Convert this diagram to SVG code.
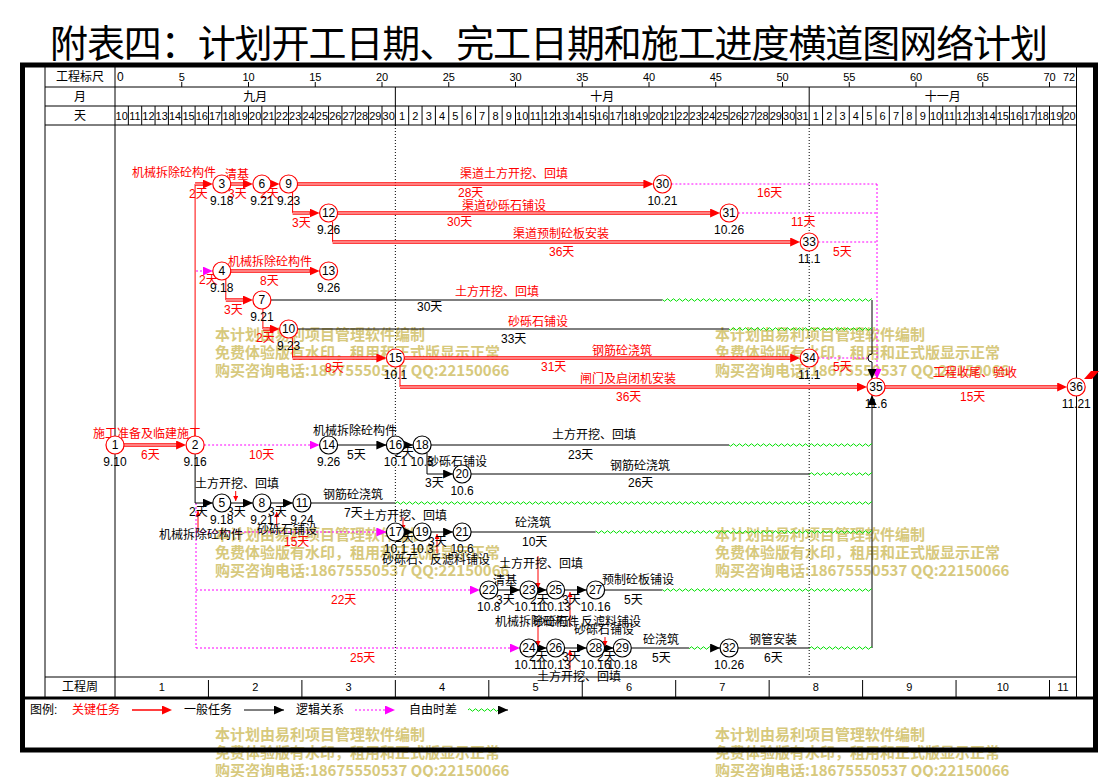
<svg xmlns="http://www.w3.org/2000/svg" width="1101" height="777" viewBox="0 0 1101 777">
<style>
text{font-family:"Liberation Sans","Noto Sans CJK SC",sans-serif;font-size:12px;fill:#000}
.r{fill:#f00}
.ttl{font-family:"Noto Sans CJK SC",sans-serif;font-size:38px}
.hd text{font-size:11px;text-anchor:middle}
.mid{text-anchor:middle}
.wm text{font-family:"Noto Sans CJK SC",sans-serif;font-size:15px;font-weight:bold;fill:#d7c97d}
.ln{stroke:#000;stroke-width:1;fill:none}
.dot{stroke:#000;stroke-width:1;stroke-dasharray:1 2;fill:none}
.c{stroke:#f00;stroke-width:3.4;fill:none}
.ci{stroke:#fff;stroke-width:1.2;fill:none}
.v{stroke:#f00;stroke-width:1;fill:none}
.b{stroke:#000;stroke-width:1;fill:none}
.m{stroke:#f0f;stroke-width:1;stroke-dasharray:2 2;fill:none}
.sr{stroke:#f00;stroke-width:1;fill:none}
.nr circle{fill:#fff;stroke:#f00;stroke-width:1.2}
.nb circle{fill:#fff;stroke:#000;stroke-width:1.2}
.nr text,.nb text{text-anchor:middle}
.wv{fill:url(#wv)}
</style>
<defs>
<marker id="aR" viewBox="0 0 10 9" refX="4" refY="4.5" markerWidth="10" markerHeight="9" markerUnits="userSpaceOnUse" orient="auto"><path d="M0,0L10,4.5L0,9z" fill="#f00"/></marker>
<marker id="aK" viewBox="0 0 10 9" refX="10" refY="4.5" markerWidth="10" markerHeight="9" markerUnits="userSpaceOnUse" orient="auto"><path d="M0,0L10,4.5L0,9z" fill="#000"/></marker>
<marker id="aM" viewBox="0 0 10 9" refX="10" refY="4.5" markerWidth="10" markerHeight="9" markerUnits="userSpaceOnUse" orient="auto"><path d="M0,0L10,4.5L0,9z" fill="#f0f"/></marker>
<marker id="sa" viewBox="0 0 5 5" refX="5" refY="2.5" markerWidth="5" markerHeight="5" markerUnits="userSpaceOnUse" orient="auto"><path d="M0,0L5,2.5L0,5z" fill="#f00"/></marker>
<pattern id="wv" patternUnits="userSpaceOnUse" x="0" y="-3" width="6" height="6"><path d="M0,3Q1.5,0.5 3,3T6,3" fill="none" stroke="#00e000" stroke-width="1"/></pattern>
</defs>
<rect x="0" y="0" width="1101" height="777" fill="#fff"/>
<text class="ttl" x="50" y="57" textLength="998">附表四：计划开工日期、完工日期和施工进度横道图网络计划</text>

<g id="watermark" class="wm">
<text x="215" y="340">本计划由易利项目管理软件编制</text>
<text x="215" y="358">免费体验版有水印，租用和正式版显示正常</text>
<text x="215" y="376">购买咨询电话:18675550537 QQ:22150066</text>
<text x="715" y="340">本计划由易利项目管理软件编制</text>
<text x="715" y="358">免费体验版有水印，租用和正式版显示正常</text>
<text x="715" y="376">购买咨询电话:18675550537 QQ:22150066</text>
<text x="215" y="540">本计划由易利项目管理软件编制</text>
<text x="215" y="558">免费体验版有水印，租用和正式版显示正常</text>
<text x="215" y="576">购买咨询电话:18675550537 QQ:22150066</text>
<text x="715" y="540">本计划由易利项目管理软件编制</text>
<text x="715" y="558">免费体验版有水印，租用和正式版显示正常</text>
<text x="715" y="576">购买咨询电话:18675550537 QQ:22150066</text>
<text x="215" y="740">本计划由易利项目管理软件编制</text>
<text x="215" y="758">免费体验版有水印，租用和正式版显示正常</text>
<text x="215" y="776">购买咨询电话:18675550537 QQ:22150066</text>
<text x="715" y="740">本计划由易利项目管理软件编制</text>
<text x="715" y="758">免费体验版有水印，租用和正式版显示正常</text>
<text x="715" y="776">购买咨询电话:18675550537 QQ:22150066</text>
</g>

<g id="frame">
<rect x="22.5" y="65" width="1073" height="685" fill="none" stroke="#000" stroke-width="5"/>
<path class="ln" d="M45,87H1076.5M45,106H1076.5M45,125H1076.5M45,677H1076.5M45,65V698M115,65V698M1076.5,65V698M395.35,87V125M809.2,87V125"/>
<path d="M22,698H1096" stroke="#000" stroke-width="3"/>
<path class="ln" d="M128.35,106V125M141.7,106V125M155.05,106V125M168.4,106V125M181.75,106V125M195.1,106V125M208.45,106V125M221.8,106V125M235.15,106V125M248.5,106V125M261.85,106V125M275.2,106V125M288.55,106V125M301.9,106V125M315.25,106V125M328.6,106V125M341.95,106V125M355.3,106V125M368.65,106V125M382,106V125M408.7,106V125M422.05,106V125M435.4,106V125M448.75,106V125M462.1,106V125M475.45,106V125M488.8,106V125M502.15,106V125M515.5,106V125M528.85,106V125M542.2,106V125M555.55,106V125M568.9,106V125M582.25,106V125M595.6,106V125M608.95,106V125M622.3,106V125M635.65,106V125M649,106V125M662.35,106V125M675.7,106V125M689.05,106V125M702.4,106V125M715.75,106V125M729.1,106V125M742.45,106V125M755.8,106V125M769.15,106V125M782.5,106V125M795.85,106V125M822.55,106V125M835.9,106V125M849.25,106V125M862.6,106V125M875.95,106V125M889.3,106V125M902.65,106V125M916,106V125M929.35,106V125M942.7,106V125M956.05,106V125M969.4,106V125M982.75,106V125M996.1,106V125M1009.45,106V125M1022.8,106V125M1036.15,106V125M1049.5,106V125M1062.85,106V125"/>
<path class="ln" d="M181.75,82V87M248.5,82V87M315.25,82V87M382,82V87M448.75,82V87M515.5,82V87M582.25,82V87M649,82V87M715.75,82V87M782.5,82V87M849.25,82V87M916,82V87M982.75,82V87M1049.5,82V87"/>
<path class="ln" d="M208.45,680V698M301.9,680V698M395.35,680V698M488.8,680V698M582.25,680V698M675.7,680V698M769.15,680V698M862.6,680V698M956.05,680V698M1049.5,680V698"/>
<path class="dot" d="M395.35,125V677M809.2,125V677"/>
<text class="mid" x="80" y="81">工程标尺</text>
<text class="mid" x="80" y="101">月</text>
<text class="mid" x="80" y="120">天</text>
<text class="mid" x="80" y="691">工程周</text>
<text x="117" y="81" font-size="11">0</text>
<g class="hd">
<text x="181.75" y="81">5</text><text x="248.5" y="81">10</text><text x="315.25" y="81">15</text><text x="382" y="81">20</text><text x="448.75" y="81">25</text><text x="515.5" y="81">30</text><text x="582.25" y="81">35</text><text x="649" y="81">40</text><text x="715.75" y="81">45</text><text x="782.5" y="81">50</text><text x="849.25" y="81">55</text><text x="916" y="81">60</text><text x="982.75" y="81">65</text><text x="1049.5" y="81">70</text>
<text x="1069" y="81">72</text>
<text x="255.2" y="101" style="font-size:12px">九月</text><text x="602.3" y="101" style="font-size:12px">十月</text><text x="942.7" y="101" style="font-size:12px">十一月</text>
<text x="121.7" y="120">10</text><text x="135" y="120">11</text><text x="148.4" y="120">12</text><text x="161.7" y="120">13</text><text x="175.1" y="120">14</text><text x="188.5" y="120">15</text><text x="201.8" y="120">16</text><text x="215.1" y="120">17</text><text x="228.5" y="120">18</text><text x="241.8" y="120">19</text><text x="255.2" y="120">20</text><text x="268.5" y="120">21</text><text x="281.9" y="120">22</text><text x="295.2" y="120">23</text><text x="308.6" y="120">24</text><text x="321.9" y="120">25</text><text x="335.3" y="120">26</text><text x="348.6" y="120">27</text><text x="362" y="120">28</text><text x="375.3" y="120">29</text><text x="388.7" y="120">30</text>
<text x="402" y="120">1</text><text x="415.4" y="120">2</text><text x="428.7" y="120">3</text><text x="442.1" y="120">4</text><text x="455.4" y="120">5</text><text x="468.8" y="120">6</text><text x="482.1" y="120">7</text><text x="495.5" y="120">8</text><text x="508.8" y="120">9</text><text x="522.2" y="120">10</text><text x="535.5" y="120">11</text><text x="548.9" y="120">12</text><text x="562.2" y="120">13</text><text x="575.6" y="120">14</text><text x="588.9" y="120">15</text><text x="602.3" y="120">16</text><text x="615.6" y="120">17</text><text x="629" y="120">18</text><text x="642.3" y="120">19</text><text x="655.7" y="120">20</text><text x="669" y="120">21</text><text x="682.4" y="120">22</text><text x="695.7" y="120">23</text><text x="709.1" y="120">24</text><text x="722.4" y="120">25</text><text x="735.8" y="120">26</text><text x="749.1" y="120">27</text><text x="762.5" y="120">28</text><text x="775.8" y="120">29</text><text x="789.2" y="120">30</text><text x="802.5" y="120">31</text>
<text x="815.9" y="120">1</text><text x="829.2" y="120">2</text><text x="842.6" y="120">3</text><text x="855.9" y="120">4</text><text x="869.3" y="120">5</text><text x="882.6" y="120">6</text><text x="896" y="120">7</text><text x="909.3" y="120">8</text><text x="922.7" y="120">9</text><text x="936" y="120">10</text><text x="949.4" y="120">11</text><text x="962.7" y="120">12</text><text x="976.1" y="120">13</text><text x="989.4" y="120">14</text><text x="1002.8" y="120">15</text><text x="1016.1" y="120">16</text><text x="1029.5" y="120">17</text><text x="1042.8" y="120">18</text><text x="1056.2" y="120">19</text><text x="1069.5" y="120">20</text>
<text x="161.7" y="691">1</text><text x="255.2" y="691">2</text><text x="348.6" y="691">3</text><text x="442.1" y="691">4</text><text x="535.5" y="691">5</text><text x="629" y="691">6</text><text x="722.4" y="691">7</text><text x="815.9" y="691">8</text><text x="909.3" y="691">9</text><text x="1002.8" y="691">10</text><text x="1062.9" y="691">11</text>
</g>
</g>

<g id="connectors">
<!-- critical verticals -->
<path class="v" d="M195.1,436V184M292.6,192V213M332.6,222V242M225.8,279V300M262.9,309V329M292.6,338V358M400,366V387"/>
<!-- critical double lines -->
<g marker-end="url(#aR)">
<path class="c" d="M124,445H180.1"/>
<path class="c" d="M195.1,184H206.8"/>
<path class="c" d="M230.8,184H246.9"/>
<path class="c" d="M270.9,184H273.6"/>
<path class="c" d="M297.6,184H647.4"/>
<path class="c" d="M292.6,213H313.6"/>
<path class="c" d="M337.6,213H714.1"/>
<path class="c" d="M332.6,242H794.2"/>
<path class="c" d="M230.8,271H313.6"/>
<path class="c" d="M225.8,300H246.9"/>
<path class="c" d="M262.9,329H273.6"/>
<path class="c" d="M292.6,358H380.4"/>
<path class="c" d="M404.4,358H794.2"/>
<path class="c" d="M400,387H861"/>
<path class="c" d="M885,387H1061.2"/>
</g>
<path class="ci" d="M124,445H176.1M195.1,184H202.8M230.8,184H242.9M297.6,184H643.4M292.6,213H309.6M337.6,213H710.1M332.6,242H790.2M230.8,271H309.6M225.8,300H242.9M262.9,329H269.6M292.6,358H376.4M404.4,358H790.2M400,387H857M885,387H1057.2"/>
<!-- magenta logic / free time -->
<path class="m" d="M671.4,184H877M738.1,213H877M818.2,242H877M818.2,358H868M196,503V648"/>
<g marker-end="url(#aM)">
<path class="m" d="M196,271H212.8"/>
<path class="m" d="M204.1,445H319.6"/>
<path class="m" d="M877,184V379"/>
<path class="m" d="M196,532H386.4"/>
<path class="m" d="M196,590H479.8"/>
<path class="m" d="M196,648H519.9"/>
</g>
<!-- black tasks -->
<path class="b" d="M431.1,445H729.1M471.1,474H809.2M310.9,503H395.4M471.1,532H595.6M604.6,590H662.4M631.3,648H689.1M738.1,648H809.2M270.9,300H662.4M297.6,329H729.1"/>
<g marker-end="url(#aK)">
<path class="b" d="M337.6,445H386.4"/>
<path class="b" d="M404.4,445H413.1"/>
<path class="b" d="M427,453V474H453.1"/>
<path class="b" d="M195.1,454V503H212.8"/>
<path class="b" d="M230.8,503H252.9"/>
<path class="b" d="M270.9,503H292.9"/>
<path class="b" d="M404.4,532H413.1"/>
<path class="b" d="M431.1,532H453.1"/>
<path class="b" d="M497.8,590H519.9"/>
<path class="b" d="M537.9,590H546.6"/>
<path class="b" d="M564.6,590H586.6"/>
<path class="b" d="M537.9,648H546.6"/>
<path class="b" d="M564.6,648H586.6"/>
<path class="b" d="M604.6,648H613.3"/>
<path class="b" d="M710,648H720.1"/>
<path class="b" d="M872,300V354A4,4 0 0 0 872,362V379"/>
<path class="b" d="M872,648V395"/>
</g>
<!-- free float waves -->
<rect class="wv" transform="translate(0,300)" x="662.4" y="-3" width="209.6" height="6"/>
<rect class="wv" transform="translate(0,329)" x="729.1" y="-3" width="142.9" height="6"/>
<rect class="wv" transform="translate(0,445)" x="729.1" y="-3" width="142.9" height="6"/>
<rect class="wv" transform="translate(0,474)" x="809.2" y="-3" width="62.8" height="6"/>
<rect class="wv" transform="translate(0,503)" x="395.4" y="-3" width="476.6" height="6"/>
<rect class="wv" transform="translate(0,532)" x="595.6" y="-3" width="276.4" height="6"/>
<rect class="wv" transform="translate(0,590)" x="662.4" y="-3" width="209.6" height="6"/>
<rect class="wv" transform="translate(0,648)" x="689.1" y="-3" width="20.9" height="6"/>
<rect class="wv" transform="translate(0,648)" x="809.2" y="-3" width="62.8" height="6"/>
<!-- small red link arrows -->
<g marker-end="url(#sa)">
<path class="sr" d="M198,532V511"/>
<path class="sr" d="M235.7,491V501"/>
<path class="sr" d="M276.7,527V512"/>
<path class="sr" d="M403,517V530"/>
<path class="sr" d="M437,553V534"/>
<path class="sr" d="M538,556V588"/>
<path class="sr" d="M570,627V592"/>
<path class="sr" d="M538,625V646"/>
<path class="sr" d="M570,670V650"/>
<path class="sr" d="M605,637V646"/>
</g>
<polygon points="1084,379 1091,371 1099,371 1092,379" fill="#f00"/>
</g>

<g id="labels">
<g class="r">
<text class="r" x="132" y="177">机械拆除砼构件</text>
<text class="r" x="225" y="179">清基</text>
<text class="r" x="189" y="198">2天</text>
<text class="r" x="228" y="198">3天</text>
<text class="r" x="260" y="198">2天</text>
<text class="r" x="460" y="178">渠道土方开挖、回填</text>
<text class="r" x="458" y="197">28天</text>
<text class="r" x="757" y="197">16天</text>
<text class="r" x="462" y="210">渠道砂砾石铺设</text>
<text class="r" x="292" y="227">3天</text>
<text class="r" x="447" y="226">30天</text>
<text class="r" x="791" y="226">11天</text>
<text class="r" x="513" y="238">渠道预制砼板安装</text>
<text class="r" x="549" y="256">36天</text>
<text class="r" x="833" y="256">5天</text>
<text class="r" x="228" y="266">机械拆除砼构件</text>
<text class="r" x="199" y="284">2天</text>
<text class="r" x="260" y="285">8天</text>
<text class="r" x="224" y="314">3天</text>
<text class="r" x="455" y="296">土方开挖、回填</text>
<text class="r" x="256" y="342">2天</text>
<text class="r" x="508" y="326">砂砾石铺设</text>
<text class="r" x="592" y="355">钢筋砼浇筑</text>
<text class="r" x="325" y="372">8天</text>
<text class="r" x="541" y="371">31天</text>
<text class="r" x="833" y="371">5天</text>
<text class="r" x="580" y="383">闸门及启闭机安装</text>
<text class="r" x="616" y="401">36天</text>
<text class="r" x="933" y="377">工程收尾、验收</text>
<text class="r" x="960" y="401">15天</text>
<text class="r" x="93" y="438">施工准备及临建施工</text>
<text class="r" x="141" y="459">6天</text>
<text class="r" x="249" y="459">10天</text>
<text class="r" x="284" y="546">15天</text>
<text class="r" x="331" y="604">22天</text>
<text class="r" x="350" y="662">25天</text>
</g>
<text x="417" y="311">30天</text>
<text x="501" y="343">33天</text>
<text x="313" y="435">机械拆除砼构件</text>
<text x="347" y="459">5天</text>
<text x="395" y="457">2天</text>
<text x="552" y="439">土方开挖、回填</text>
<text x="568" y="459">23天</text>
<text x="427" y="466">砂砾石铺设</text>
<text x="610" y="470">钢筋砼浇筑</text>
<text x="425" y="487">3天</text>
<text x="628" y="487">26天</text>
<text x="195" y="488">土方开挖、回填</text>
<text x="323" y="499">钢筋砼浇筑</text>
<text x="189" y="516">2天</text>
<text x="227" y="516">3天</text>
<text x="268" y="516">3天</text>
<text x="344" y="517">7天</text>
<text x="257" y="534">砂砾石铺设</text>
<text x="159" y="539">机械拆除砼构件</text>
<text x="363" y="520">土方开挖、回填</text>
<text x="515" y="527">砼浇筑</text>
<text x="395" y="542">2天</text>
<text x="428" y="546">3天</text>
<text x="522" y="546">10天</text>
<text x="382" y="564">砂砾石、反滤料铺设</text>
<text x="499" y="568">土方开挖、回填</text>
<text x="493" y="585">清基</text>
<text x="602" y="584">预制砼板铺设</text>
<text x="496" y="604">3天</text>
<text x="530" y="604">2天</text>
<text x="562" y="604">3天</text>
<text x="624" y="604">5天</text>
<text x="495" y="626">机械拆除砼构件</text>
<text x="533" y="626">砂砾石、反滤料铺设</text>
<text x="574" y="634">砂砾石铺设</text>
<text x="643" y="644">砼浇筑</text>
<text x="749" y="644">钢管安装</text>
<text x="529" y="661">2天</text>
<text x="562" y="661">3天</text>
<text x="597" y="661">2天</text>
<text x="652" y="662">5天</text>
<text x="764" y="662">6天</text>
<text x="537" y="681">土方开挖、回填</text>
</g>

<g id="nodes">
<g id="n1" class="nr"><circle cx="115" cy="445" r="9"/><text x="115" y="449">1</text><text x="115" y="466">9.10</text></g>
<g id="n2" class="nr"><circle cx="195.1" cy="445" r="9"/><text x="195.1" y="449">2</text><text x="195.1" y="466">9.16</text></g>
<g id="n3" class="nr"><circle cx="221.8" cy="184" r="9"/><text x="221.8" y="188">3</text><text x="221.8" y="205">9.18</text></g>
<g id="n4" class="nr"><circle cx="221.8" cy="271" r="9"/><text x="221.8" y="275">4</text><text x="221.8" y="292">9.18</text></g>
<g id="n5" class="nb"><circle cx="221.8" cy="503" r="9"/><text x="221.8" y="507">5</text><text x="221.8" y="524">9.18</text></g>
<g id="n6" class="nr"><circle cx="261.9" cy="184" r="9"/><text x="261.9" y="188">6</text><text x="261.9" y="205">9.21</text></g>
<g id="n7" class="nr"><circle cx="261.9" cy="300" r="9"/><text x="261.9" y="304">7</text><text x="261.9" y="321">9.21</text></g>
<g id="n8" class="nb"><circle cx="261.9" cy="503" r="9"/><text x="261.9" y="507">8</text><text x="261.9" y="524">9.21</text></g>
<g id="n9" class="nr"><circle cx="288.6" cy="184" r="9"/><text x="288.6" y="188">9</text><text x="288.6" y="205">9.23</text></g>
<g id="n10" class="nr"><circle cx="288.6" cy="329" r="9"/><text x="288.6" y="333">10</text><text x="288.6" y="350">9.23</text></g>
<g id="n11" class="nb"><circle cx="301.9" cy="503" r="9"/><text x="301.9" y="507">11</text><text x="301.9" y="524">9.24</text></g>
<g id="n12" class="nr"><circle cx="328.6" cy="213" r="9"/><text x="328.6" y="217">12</text><text x="328.6" y="234">9.26</text></g>
<g id="n13" class="nr"><circle cx="328.6" cy="271" r="9"/><text x="328.6" y="275">13</text><text x="328.6" y="292">9.26</text></g>
<g id="n14" class="nb"><circle cx="328.6" cy="445" r="9"/><text x="328.6" y="449">14</text><text x="328.6" y="466">9.26</text></g>
<g id="n15" class="nr"><circle cx="395.4" cy="358" r="9"/><text x="395.4" y="362">15</text><text x="395.4" y="379">10.1</text></g>
<g id="n16" class="nb"><circle cx="395.4" cy="445" r="9"/><text x="395.4" y="449">16</text><text x="395.4" y="466">10.1</text></g>
<g id="n17" class="nb"><circle cx="395.4" cy="532" r="9"/><text x="395.4" y="536">17</text><text x="395.4" y="553">10.1</text></g>
<g id="n18" class="nb"><circle cx="422.1" cy="445" r="9"/><text x="422.1" y="449">18</text><text x="422.1" y="466">10.3</text></g>
<g id="n19" class="nb"><circle cx="422.1" cy="532" r="9"/><text x="422.1" y="536">19</text><text x="422.1" y="553">10.3</text></g>
<g id="n20" class="nb"><circle cx="462.1" cy="474" r="9"/><text x="462.1" y="478">20</text><text x="462.1" y="495">10.6</text></g>
<g id="n21" class="nb"><circle cx="462.1" cy="532" r="9"/><text x="462.1" y="536">21</text><text x="462.1" y="553">10.6</text></g>
<g id="n22" class="nb"><circle cx="488.8" cy="590" r="9"/><text x="488.8" y="594">22</text><text x="488.8" y="611">10.8</text></g>
<g id="n23" class="nb"><circle cx="528.9" cy="590" r="9"/><text x="528.9" y="594">23</text><text x="528.9" y="611">10.11</text></g>
<g id="n24" class="nb"><circle cx="528.9" cy="648" r="9"/><text x="528.9" y="652">24</text><text x="528.9" y="669">10.11</text></g>
<g id="n25" class="nb"><circle cx="555.6" cy="590" r="9"/><text x="555.6" y="594">25</text><text x="555.6" y="611">10.13</text></g>
<g id="n26" class="nb"><circle cx="555.6" cy="648" r="9"/><text x="555.6" y="652">26</text><text x="555.6" y="669">10.13</text></g>
<g id="n27" class="nb"><circle cx="595.6" cy="590" r="9"/><text x="595.6" y="594">27</text><text x="595.6" y="611">10.16</text></g>
<g id="n28" class="nb"><circle cx="595.6" cy="648" r="9"/><text x="595.6" y="652">28</text><text x="595.6" y="669">10.16</text></g>
<g id="n29" class="nb"><circle cx="622.3" cy="648" r="9"/><text x="622.3" y="652">29</text><text x="622.3" y="669">10.18</text></g>
<g id="n30" class="nr"><circle cx="662.4" cy="184" r="9"/><text x="662.4" y="188">30</text><text x="662.4" y="205">10.21</text></g>
<g id="n31" class="nr"><circle cx="729.1" cy="213" r="9"/><text x="729.1" y="217">31</text><text x="729.1" y="234">10.26</text></g>
<g id="n32" class="nb"><circle cx="729.1" cy="648" r="9"/><text x="729.1" y="652">32</text><text x="729.1" y="669">10.26</text></g>
<g id="n33" class="nr"><circle cx="809.2" cy="242" r="9"/><text x="809.2" y="246">33</text><text x="809.2" y="263">11.1</text></g>
<g id="n34" class="nr"><circle cx="809.2" cy="358" r="9"/><text x="809.2" y="362">34</text><text x="809.2" y="379">11.1</text></g>
<g id="n35" class="nr"><circle cx="876" cy="387" r="9"/><text x="876" y="391">35</text><text x="876" y="408">11.6</text></g>
<g id="n36" class="nr"><circle cx="1076.2" cy="387" r="9"/><text x="1076.2" y="391">36</text><text x="1076.2" y="408">11.21</text></g>
</g>

<g id="legend">
<text x="30" y="714">图例:</text>
<text class="r" x="72" y="714">关键任务</text>
<path d="M132,710H166" stroke="#f00" stroke-width="1.5" marker-end="url(#aR)"/>
<text x="184" y="714">一般任务</text>
<path class="b" d="M244,710H284" marker-end="url(#aK)"/>
<text x="296" y="714">逻辑关系</text>
<path class="m" d="M355,710H395" marker-end="url(#aM)"/>
<text x="409" y="714">自由时差</text>
<rect class="wv" transform="translate(0,710)" x="468" y="-3" width="31" height="6"/>
<path class="b" d="M499,710H508" marker-end="url(#aK)"/>
</g>
</svg>
